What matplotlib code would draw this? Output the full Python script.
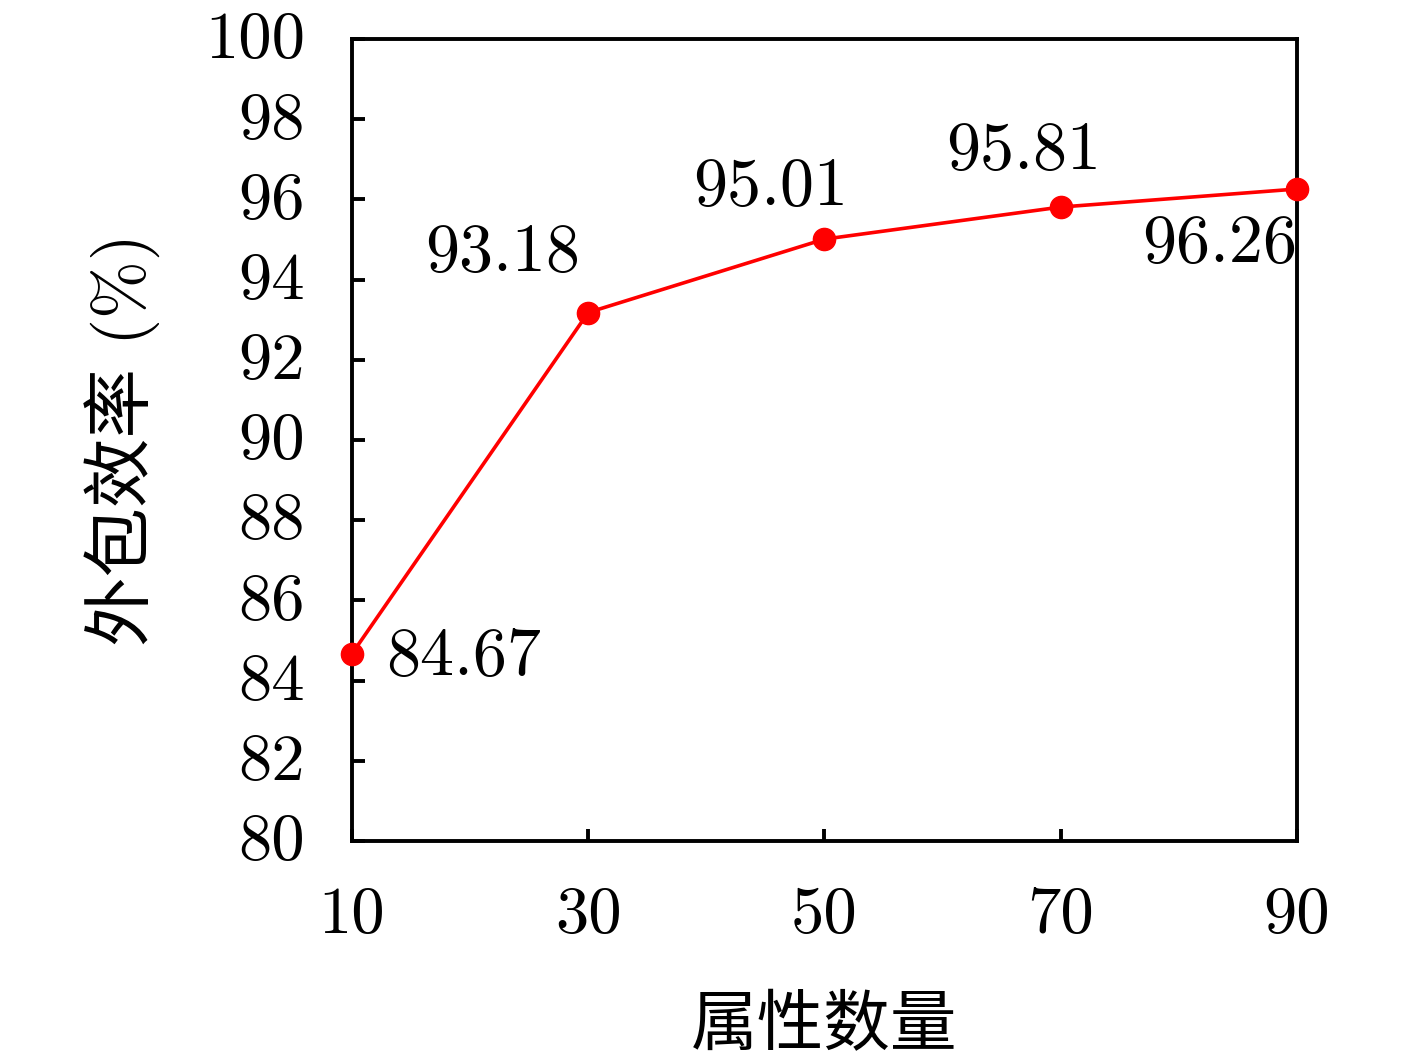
import numpy as np
import matplotlib
matplotlib.use("Agg")
import matplotlib.pyplot as plt
import matplotlib.transforms as mtrans

# attribute count vs. outsourcing efficiency
attrs = [10, 30, 50, 70, 90]
eff = [84.67, 93.18, 95.01, 95.81, 96.26]
labels = ["84.67", "93.18", "95.01", "95.81", "96.26"]
# label offsets in pixels from each point
offs = [(112, -4), (-86, 59), (-54, 52), (-37, 56), (-77, -55)]

plt.rcParams['font.family'] = ['cmr10', 'Noto Sans CJK SC', 'DejaVu Sans']
plt.rcParams['axes.unicode_minus'] = False

fig = plt.figure(figsize=(14.17, 10.58), dpi=100)
ax = fig.add_axes([0.2484, 0.2051, 0.6669, 0.758])

ax.plot(attrs, eff, "-", color="red", lw=2.6, marker="o", ms=16, clip_on=False, zorder=5)
for x, y, t, (dx, dy) in zip(attrs, eff, labels, offs):
    ax.annotate(t, (x, y), xytext=(dx, dy), textcoords="offset pixels",
                ha="center", va="center", fontsize=49)

ax.set_xlim(10, 90)
ax.set_ylim(80, 100)
ax.set_xticks(attrs)
ax.set_yticks(np.arange(80, 101, 2))
ax.tick_params(direction="in", length=9, width=2.8, labelsize=48)
ax.tick_params(axis="y", pad=34)
ax.tick_params(axis="x", pad=33)
for s in ax.spines.values():
    s.set_linewidth(2.8)

# nudge y tick labels up a little
shift = mtrans.ScaledTranslation(0, 4 / 100, fig.dpi_scale_trans)
for lab in ax.get_yticklabels():
    lab.set_transform(lab.get_transform() + shift)

ax.set_ylabel("外包效率 (%)", fontsize=50, labelpad=32)
ax.set_xlabel("属性数量", fontsize=48, labelpad=36)

fig.savefig("out.png", dpi=100)
